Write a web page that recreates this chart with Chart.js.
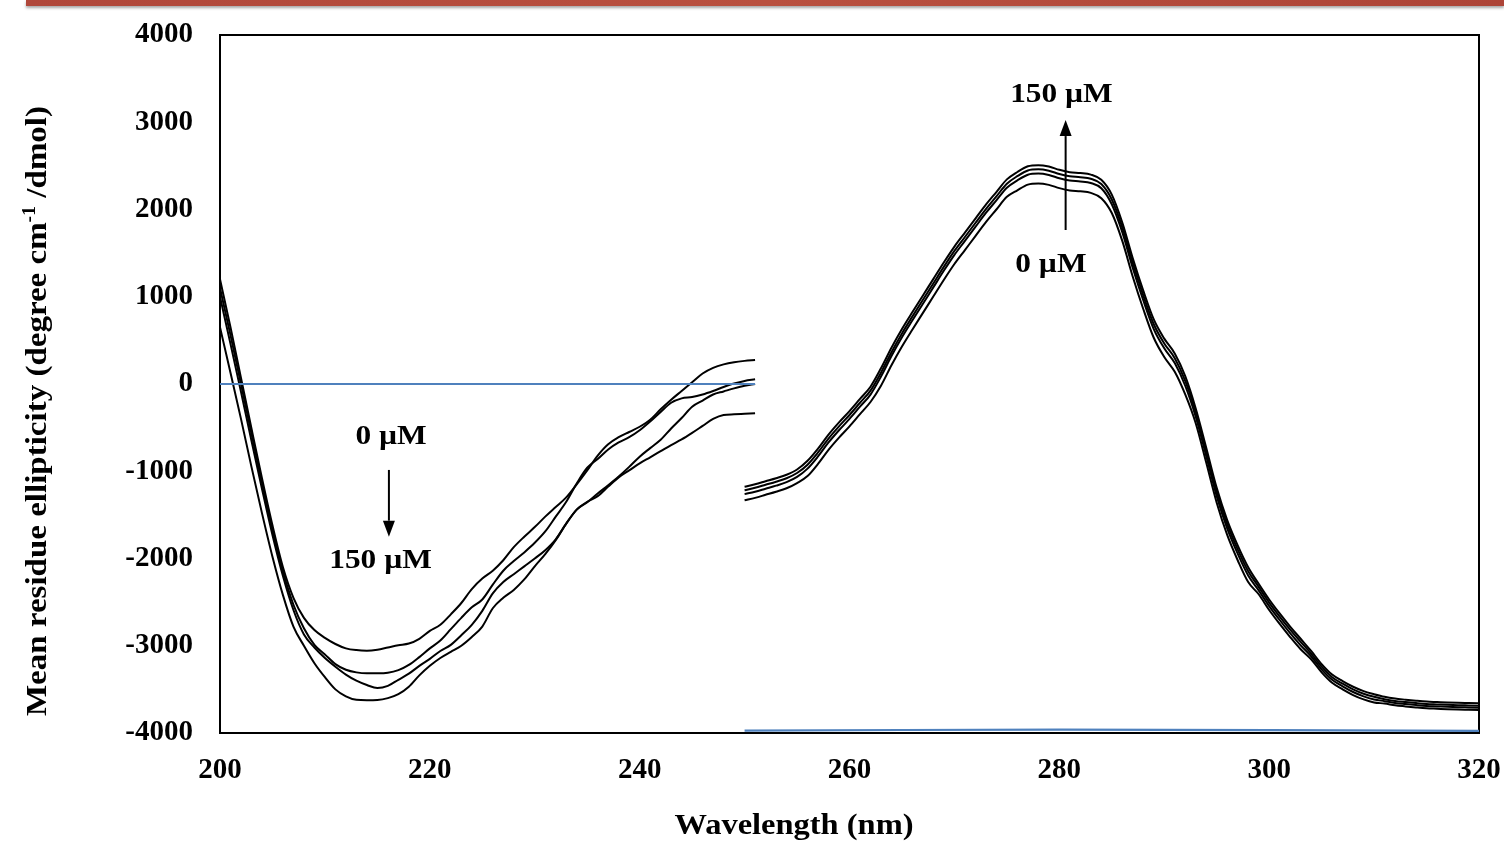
<!DOCTYPE html>
<html>
<head>
<meta charset="utf-8">
<script src="https://cdn.jsdelivr.net/npm/chart.js@4.4.0/dist/chart.umd.min.js"></script>
<style>
  html, body { margin: 0; padding: 0; background: #fff; }
  #wrap { position: relative; width: 1504px; height: 842px; overflow: hidden; }
  #topBar {
    position: absolute; left: 26px; right: 0; top: 0; height: 6px;
    background: linear-gradient(90deg, #b0473a, #b9503f 50%, #ad4437);
    box-shadow: 0 2px 3px rgba(0,0,0,0.35);
  }
  #cdChart { position: absolute; left: 0; top: 0; }
</style>
</head>
<body>
<div id="wrap">
  <div id="topBar"></div>
  <canvas id="cdChart" width="1504" height="842"></canvas>
</div>
<script>
// ==========================================
// DATA: phổ CD vùng UV xa và UV gần
// ==========================================
const wlLeft = [200, 201, 202, 203, 204, 205, 206, 207, 208, 209,
  210, 211, 212, 213, 214, 215, 216, 217, 218, 219,
  220, 221, 222, 223, 224, 225, 226, 227, 228, 229,
  230, 231, 232, 233, 234, 235, 236, 237, 238, 239,
  240, 241, 242, 243, 244, 245, 246, 247, 248, 249,
  250, 251];

// 0 µM -> 150 µM (min càng âm)
const farUV1 = [1200, 650, 70, -510, -1080, -1620, -2100, -2450, -2680, -2820,
  -2910, -2980, -3030, -3050, -3056, -3045, -3020, -2995, -2975, -2920,
  -2830, -2760, -2640, -2510, -2350, -2230, -2140, -2020, -1870, -1750,
  -1640, -1520, -1410, -1300, -1150, -990, -820, -690, -610, -550,
  -490, -410, -290, -180, -80, 20, 120, 185, 225, 250,
  265, 275];
const farUV2 = [1100, 560, 0, -570, -1130, -1670, -2150, -2530, -2800, -2990,
  -3100, -3210, -3275, -3305, -3316, -3316, -3310, -3280, -3220, -3130,
  -3030, -2940, -2810, -2680, -2560, -2470, -2300, -2140, -2030, -1930,
  -1820, -1690, -1520, -1350, -1140, -960, -860, -750, -670, -610,
  -530, -430, -320, -215, -165, -150, -120, -80, -35, 5,
  35, 54];
const farUV3 = [1000, 460, -90, -650, -1200, -1730, -2200, -2590, -2870, -3020,
  -3140, -3240, -3330, -3400, -3450, -3485, -3460, -3390, -3320, -3230,
  -3150, -3060, -2990, -2880, -2760, -2600, -2400, -2270, -2180, -2090,
  -2000, -1905, -1780, -1600, -1440, -1355, -1255, -1160, -1060, -950,
  -833, -735, -640, -510, -390, -260, -190, -120, -85, -50,
  -20, 0];
const farUV4 = [650, 130, -400, -950, -1480, -1980, -2420, -2780, -3000, -3200,
  -3360, -3500, -3580, -3620, -3625, -3622, -3600, -3555, -3470, -3340,
  -3230, -3140, -3070, -3000, -2900, -2780, -2570, -2450, -2360, -2240,
  -2090, -1950, -1790, -1600, -1440, -1350, -1285, -1175, -1070, -990,
  -909, -840, -770, -700, -635, -560, -480, -400, -355, -348,
  -342, -336];

const wlRight = [250, 251, 252, 253, 254, 255, 256, 257, 258, 259,
  260, 261, 262, 263, 264, 265, 266, 267, 268, 269,
  270, 271, 272, 273, 274, 275, 276, 277, 278, 279,
  280, 281, 282, 283, 284, 285, 286, 287, 288, 289,
  290, 291, 292, 293, 294, 295, 296, 297, 298, 299,
  300, 301, 302, 303, 304, 305, 306, 307, 308, 309,
  310, 311, 312, 313, 314, 315, 316, 317, 318, 319,
  320];

// 150 µM (trên cùng) -> 0 µM (dưới cùng)
const nearUV1 = [-1177, -1150, -1115, -1080, -1040, -980, -880, -740, -580, -440,
  -310, -170, -31, 180, 415, 630, 825, 1015, 1205, 1395,
  1575, 1735, 1895, 2055, 2200, 2345, 2430, 2495, 2508, 2492,
  2455, 2428, 2418, 2400, 2340, 2170, 1850, 1440, 1070, 740,
  520, 350, 90, -280, -730, -1190, -1560, -1850, -2100, -2290,
  -2470, -2630, -2780, -2920, -3060, -3210, -3330, -3405, -3470, -3520,
  -3555, -3585, -3605, -3618, -3630, -3640, -3645, -3650, -3654, -3657,
  -3660];
const nearUV2 = [-1217, -1190, -1155, -1120, -1080, -1020, -925, -785, -625, -485,
  -355, -215, -76, 130, 365, 580, 775, 965, 1155, 1345,
  1525, 1685, 1845, 2005, 2150, 2295, 2382, 2447, 2460, 2444,
  2407, 2380, 2370, 2352, 2292, 2115, 1795, 1385, 1015, 685,
  465, 295, 35, -325, -775, -1235, -1605, -1895, -2145, -2325,
  -2505, -2665, -2815, -2955, -3090, -3240, -3360, -3435, -3500, -3550,
  -3585, -3612, -3632, -3645, -3657, -3667, -3672, -3677, -3681, -3684,
  -3687];
const nearUV3 = [-1262, -1235, -1200, -1165, -1125, -1065, -970, -830, -670, -530,
  -400, -260, -121, 85, 320, 535, 730, 920, 1110, 1300,
  1480, 1640, 1800, 1960, 2105, 2250, 2334, 2399, 2412, 2396,
  2359, 2332, 2322, 2304, 2244, 2060, 1740, 1330, 960, 630,
  410, 240, -20, -375, -825, -1285, -1655, -1945, -2195, -2365,
  -2545, -2705, -2855, -2995, -3120, -3270, -3390, -3465, -3530, -3580,
  -3615, -3635, -3655, -3668, -3680, -3690, -3695, -3700, -3704, -3707,
  -3710];
const nearUV4 = [-1332, -1305, -1270, -1235, -1195, -1135, -1055, -915, -755, -615,
  -485, -345, -206, -20, 215, 430, 625, 815, 1005, 1195,
  1375, 1535, 1695, 1855, 2000, 2145, 2220, 2285, 2298, 2282,
  2245, 2218, 2208, 2190, 2130, 1960, 1640, 1230, 860, 530,
  310, 140, -120, -450, -900, -1360, -1730, -2020, -2270, -2410,
  -2590, -2750, -2900, -3040, -3155, -3305, -3425, -3500, -3565, -3615,
  -3650, -3662, -3682, -3695, -3707, -3717, -3722, -3727, -3731, -3734,
  -3737];

// đường nền (màu xanh)
const baseLeftWl = [200, 251];
const baseLeftVal = [0, 0];
const baseRightWl = [250, 280, 320];
const baseRightVal = [-3972, -3962, -3975];

const yTicks = [-4000, -3000, -2000, -1000, 0, 1000, 2000, 3000, 4000];
const xTicks = [200, 220, 240, 260, 280, 300, 320];

// ==========================================
// HELPERS
// ==========================================
const SERIF = "'Liberation Serif', 'Times New Roman', serif";

function toPoints(xs, ys) {
  return xs.map((x, i) => ({ x: x, y: ys[i] }));
}

function curve(xs, ys) {
  return {
    data: toPoints(xs, ys),
    borderColor: '#000',
    borderWidth: 2,
    pointRadius: 0,
    cubicInterpolationMode: 'monotone',
    order: 1
  };
}

function baseline(xs, ys) {
  return {
    data: toPoints(xs, ys),
    borderColor: '#4f81bd',
    borderWidth: 2.2,
    pointRadius: 0,
    tension: 0.3,
    order: 0
  };
}

// vẽ chữ có giãn ngang (font gốc hơi bè)
function stretchText(ctx, text, x, y, sx) {
  ctx.save();
  ctx.translate(x, y);
  ctx.scale(sx, 1);
  ctx.fillText(text, 0, 0);
  ctx.restore();
}

function arrow(ctx, x, y0, y1) {
  const dir = y1 > y0 ? 1 : -1;
  const head = 16;
  ctx.save();
  ctx.strokeStyle = '#000';
  ctx.fillStyle = '#000';
  ctx.lineWidth = 2;
  ctx.beginPath();
  ctx.moveTo(x, y0);
  ctx.lineTo(x, y1 - dir * head);
  ctx.stroke();
  ctx.beginPath();
  ctx.moveTo(x, y1);
  ctx.lineTo(x - 6, y1 - dir * head);
  ctx.lineTo(x + 6, y1 - dir * head);
  ctx.closePath();
  ctx.fill();
  ctx.restore();
}

// khung + nhãn + mũi tên + tiêu đề trục
const decorPlugin = {
  id: 'decor',
  beforeDatasetsDraw(chart) {
    const { ctx, chartArea: a } = chart;
    ctx.save();
    ctx.strokeStyle = '#000';
    ctx.lineWidth = 2;
    ctx.strokeRect(a.left, a.top, a.right - a.left, a.bottom - a.top);
    ctx.restore();
  },
  afterDatasetsDraw(chart) {
    const { ctx } = chart;
    const xs = chart.scales.x, ys = chart.scales.y;
    const px = v => xs.getPixelForValue(v);
    const py = v => ys.getPixelForValue(v);

    ctx.save();
    ctx.fillStyle = '#000';
    ctx.font = 'bold 28px ' + SERIF;
    ctx.textBaseline = 'middle';

    function label(t, xv, yv) {
      const w = ctx.measureText(t).width * 1.12;
      stretchText(ctx, t, px(xv) - w / 2, py(yv), 1.12);
    }
    // vùng UV xa
    label('0 µM', 216.3, -600);
    arrow(ctx, px(216.1), py(-985), py(-1750));
    label('150 µM', 215.3, -2030);
    // vùng UV gần
    label('150 µM', 280.2, 3320);
    arrow(ctx, px(280.6), py(1765), py(3025));
    label('0 µM', 279.2, 1364);

    // tiêu đề trục X
    ctx.font = 'bold 29px ' + SERIF;
    ctx.textBaseline = 'alphabetic';
    const xt = 'Wavelength (nm)';
    const xw = ctx.measureText(xt).width * 1.12;
    stretchText(ctx, xt, 794 - xw / 2, 834, 1.12);

    // tiêu đề trục Y (có chỉ số trên)
    const p1 = 'Mean residue ellipticity (degree cm';
    const p2 = '-1';
    const p3 = ' /dmol)';
    ctx.font = 'bold 30px ' + SERIF;
    const w1 = ctx.measureText(p1).width;
    const w3 = ctx.measureText(p3).width;
    ctx.font = 'bold 18px ' + SERIF;
    const w2 = ctx.measureText(p2).width;
    const total = w1 + w2 + w3;
    ctx.translate(46, 411);
    ctx.rotate(-Math.PI / 2);
    ctx.scale(1.1, 1);
    let cx = -total / 2;
    ctx.font = 'bold 30px ' + SERIF;
    ctx.fillText(p1, cx, 0);
    cx += w1;
    ctx.font = 'bold 18px ' + SERIF;
    ctx.fillText(p2, cx, -11);
    cx += w2;
    ctx.font = 'bold 30px ' + SERIF;
    ctx.fillText(p3, cx, 0);
    ctx.restore();
  }
};

// ==========================================
// KHỞI TẠO BIỂU ĐỒ
// ==========================================
const ctx = document.getElementById('cdChart');

new Chart(ctx, {
  type: 'line',
  data: {
    datasets: [
      curve(wlLeft, farUV1),
      curve(wlLeft, farUV2),
      curve(wlLeft, farUV3),
      curve(wlLeft, farUV4),
      curve(wlRight, nearUV1),
      curve(wlRight, nearUV2),
      curve(wlRight, nearUV3),
      curve(wlRight, nearUV4),
      baseline(baseLeftWl, baseLeftVal),
      baseline(baseRightWl, baseRightVal)
    ]
  },
  options: {
    responsive: false,
    animation: false,
    devicePixelRatio: 1,
    layout: { padding: { top: 35, right: 25, left: 0, bottom: 0 } },
    plugins: { legend: { display: false }, tooltip: { enabled: false } },
    scales: {
      x: {
        type: 'linear',
        min: 200,
        max: 320,
        // khoá kích thước vùng vẽ như hình gốc
        afterFit: s => { s.height = 109; s.paddingLeft = 0; s.paddingRight = 0; },
        afterBuildTicks: s => { s.ticks = xTicks.map(v => ({ value: v })); },
        grid: { display: false, drawTicks: false },
        border: { display: false },
        ticks: {
          color: '#000',
          padding: 20,
          maxRotation: 0,
          font: { family: SERIF, size: 29, weight: 'bold' },
          callback: v => String(v)
        }
      },
      y: {
        min: -4000,
        max: 4000,
        afterFit: s => { s.width = 220; s.paddingTop = 0; s.paddingBottom = 0; },
        afterBuildTicks: s => { s.ticks = yTicks.map(v => ({ value: v })); },
        grid: { display: false, drawTicks: false },
        border: { display: false },
        ticks: {
          color: '#000',
          padding: 27,
          font: { family: SERIF, size: 29, weight: 'bold' },
          callback: v => String(v)
        }
      }
    }
  },
  plugins: [decorPlugin]
});
</script>
</body>
</html>
